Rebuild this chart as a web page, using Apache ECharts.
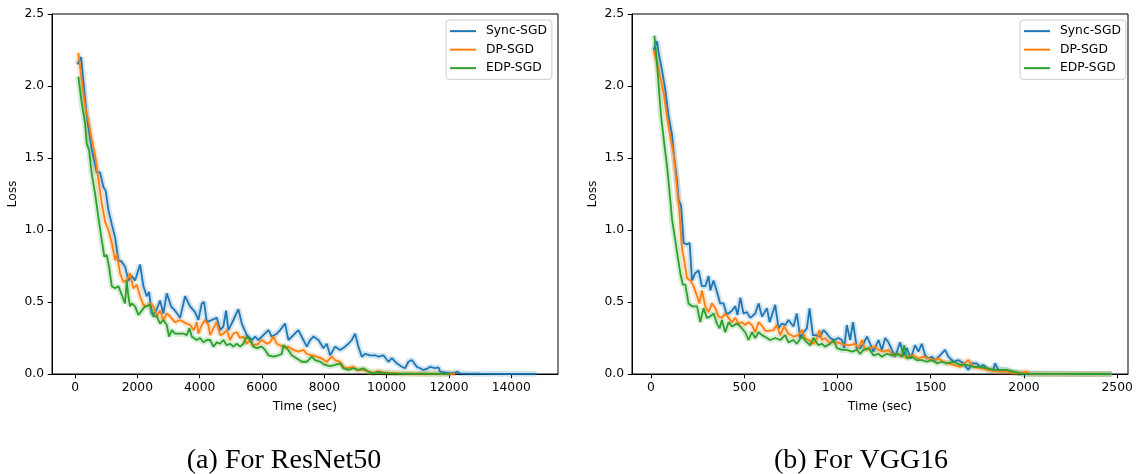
<!DOCTYPE html>
<html>
<head>
<meta charset="utf-8">
<script src="https://cdn.jsdelivr.net/npm/echarts@6/dist/echarts.min.js"></script>
<style>
html,body{margin:0;padding:0;background:#fff;}
#chart{width:1136px;height:474px;}
</style>
</head>
<body>
<div id="chart"></div>
<script>
// ---------------- DATA ----------------
const seriesNames = ['Sync-SGD', 'DP-SGD', 'EDP-SGD'];
const resnetTicks = [0, 2000, 4000, 6000, 8000, 10000, 12000, 14000];
const vggTicks = [0, 500, 1000, 1500, 2000, 2500];
const lossTicks = [0, 0.5, 1.0, 1.5, 2.0, 2.5];
const captions = ['(a) For ResNet50', '(b) For VGG16'];

// ResNet50: [time (sec), loss]
const resnetSync = [[74,2.15],[193,2.20],[376,1.79],[536,1.56],[697,1.40],[803,1.40],[908,1.30],[985,1.27],[1069,1.14],[1178,1.04],[1284,0.95],[1390,0.79],[1499,0.78],[1605,0.745],[1711,0.65],[1820,0.68],[1926,0.65],[2087,0.76],[2192,0.61],[2302,0.54],[2375,0.57],[2462,0.42],[2568,0.42],[2729,0.51],[2834,0.42],[2944,0.56],[3082,0.47],[3210,0.44],[3371,0.39],[3531,0.54],[3692,0.47],[3852,0.43],[3958,0.375],[4067,0.49],[4141,0.50],[4228,0.36],[4388,0.375],[4549,0.39],[4655,0.305],[4760,0.33],[4847,0.44],[4921,0.305],[5081,0.375],[5242,0.45],[5351,0.35],[5512,0.27],[5672,0.236],[5778,0.26],[5884,0.236],[6044,0.27],[6205,0.305],[6314,0.26],[6475,0.28],[6581,0.305],[6741,0.35],[6847,0.236],[7007,0.27],[7168,0.305],[7328,0.236],[7437,0.19],[7544,0.236],[7649,0.26],[7810,0.236],[7970,0.18],[8079,0.21],[8186,0.13],[8346,0.19],[8507,0.167],[8667,0.19],[8773,0.21],[8882,0.236],[8988,0.28],[9094,0.19],[9203,0.12],[9309,0.14],[9470,0.13],[9630,0.13],[9736,0.12],[9896,0.13],[10057,0.085],[10166,0.11],[10326,0.074],[10487,0.05],[10593,0.04],[10699,0.085],[10808,0.097],[10968,0.05],[11075,0.04],[11180,0.028],[11290,0.035],[11396,0.05],[11556,0.04],[11662,0.046],[11717,0.016],[11877,0.01],[12038,0.005],[12198,0.01],[12272,0.016],[12359,0.005],[12680,0.003],[13000,0.002],[13643,0.001],[14285,0.001],[14814,0.001]];
const resnetDP = [[106,2.23],[215,2.04],[321,1.86],[427,1.76],[536,1.625],[642,1.52],[748,1.35],[857,1.185],[963,1.06],[1069,1.00],[1178,0.91],[1284,0.79],[1339,0.83],[1445,0.70],[1550,0.64],[1660,0.65],[1766,0.70],[1871,0.595],[1981,0.62],[2087,0.54],[2192,0.48],[2302,0.47],[2408,0.49],[2513,0.47],[2623,0.40],[2729,0.44],[2834,0.375],[2944,0.42],[3050,0.40],[3210,0.36],[3371,0.375],[3531,0.355],[3692,0.34],[3820,0.305],[3907,0.36],[3958,0.28],[4067,0.34],[4173,0.375],[4279,0.34],[4334,0.27],[4440,0.317],[4549,0.36],[4655,0.27],[4760,0.28],[4870,0.305],[4976,0.236],[5081,0.28],[5191,0.29],[5297,0.25],[5402,0.26],[5512,0.21],[5618,0.236],[5723,0.20],[5884,0.21],[5993,0.236],[6154,0.21],[6260,0.22],[6365,0.26],[6475,0.21],[6581,0.20],[6741,0.18],[6847,0.19],[7007,0.167],[7168,0.155],[7328,0.167],[7437,0.14],[7598,0.13],[7759,0.12],[7919,0.108],[8079,0.085],[8240,0.12],[8346,0.097],[8507,0.085],[8613,0.05],[8722,0.04],[8933,0.05],[9043,0.028],[9254,0.028],[9415,0.016],[9575,0.01],[9728,0.02],[9887,0.012],[10112,0.008],[10433,0.005],[10914,0.003],[11396,0.002],[11877,0.001],[12200,0.001]];
const resnetEDP = [[106,2.065],[215,1.88],[321,1.74],[376,1.60],[449,1.555],[536,1.39],[642,1.255],[748,1.09],[857,0.93],[941,0.815],[1018,0.826],[1091,0.745],[1178,0.61],[1284,0.595],[1390,0.61],[1499,0.55],[1605,0.49],[1660,0.65],[1711,0.54],[1766,0.47],[1820,0.49],[1926,0.47],[2032,0.41],[2141,0.44],[2247,0.47],[2408,0.48],[2513,0.40],[2623,0.40],[2729,0.35],[2834,0.375],[2944,0.34],[3017,0.26],[3104,0.305],[3210,0.28],[3371,0.28],[3476,0.28],[3586,0.27],[3669,0.317],[3746,0.26],[3907,0.236],[4013,0.25],[4119,0.22],[4228,0.236],[4334,0.236],[4440,0.19],[4549,0.22],[4655,0.21],[4760,0.236],[4870,0.20],[4976,0.21],[5081,0.19],[5191,0.21],[5297,0.19],[5402,0.21],[5512,0.26],[5618,0.236],[5723,0.19],[5830,0.18],[5993,0.19],[6099,0.167],[6205,0.13],[6365,0.12],[6526,0.13],[6635,0.14],[6686,0.20],[6796,0.18],[6956,0.13],[7117,0.108],[7277,0.085],[7437,0.085],[7598,0.12],[7704,0.097],[7865,0.085],[8025,0.063],[8186,0.055],[8346,0.063],[8507,0.074],[8613,0.04],[8773,0.028],[8933,0.04],[9094,0.028],[9254,0.04],[9415,0.016],[9575,0.005],[9728,0.015],[9887,0.008],[10112,0.005],[10433,0.003],[11075,0.002],[11717,0.001],[12038,0.001]];

// VGG16: [time (sec), loss]
const vggSync = [[14,2.25],[32,2.31],[41,2.23],[59,2.11],[77,1.97],[94,1.79],[113,1.66],[121,1.54],[130,1.53],[139,1.35],[148,1.21],[161,1.17],[175,0.91],[193,0.90],[207,0.91],[220,0.65],[237,0.70],[255,0.72],[273,0.61],[291,0.61],[309,0.68],[318,0.58],[335,0.65],[354,0.57],[371,0.49],[389,0.49],[404,0.42],[416,0.42],[434,0.44],[452,0.47],[464,0.41],[479,0.53],[496,0.42],[514,0.43],[532,0.39],[559,0.42],[577,0.49],[595,0.40],[604,0.41],[622,0.456],[636,0.36],[666,0.48],[684,0.317],[702,0.35],[720,0.34],[737,0.375],[764,0.33],[782,0.42],[800,0.25],[818,0.29],[836,0.317],[850,0.456],[868,0.27],[890,0.27],[907,0.26],[925,0.305],[943,0.28],[961,0.25],[982,0.236],[1005,0.25],[1024,0.236],[1036,0.18],[1050,0.34],[1068,0.236],[1083,0.36],[1104,0.18],[1122,0.18],[1139,0.21],[1158,0.26],[1175,0.21],[1193,0.155],[1220,0.236],[1238,0.167],[1256,0.25],[1273,0.22],[1292,0.167],[1309,0.12],[1336,0.22],[1354,0.13],[1372,0.18],[1393,0.108],[1416,0.20],[1434,0.155],[1452,0.21],[1470,0.13],[1488,0.108],[1506,0.12],[1524,0.097],[1550,0.13],[1577,0.167],[1595,0.12],[1622,0.085],[1648,0.097],[1675,0.074],[1702,0.028],[1720,0.074],[1747,0.074],[1765,0.05],[1782,0.063],[1809,0.028],[1836,0.028],[1845,0.074],[1863,0.028],[1890,0.028],[1925,0.016],[1961,0.01],[1997,0.002],[2086,0.001],[2193,0.001],[2300,0.0],[2470,0.0]];
const vggDP = [[14,2.25],[32,2.16],[50,2.06],[68,1.95],[86,1.79],[103,1.65],[121,1.53],[139,1.30],[153,1.115],[166,0.87],[178,0.79],[193,0.665],[211,0.65],[228,0.61],[247,0.54],[260,0.49],[273,0.58],[291,0.47],[309,0.43],[327,0.49],[345,0.456],[362,0.40],[380,0.39],[398,0.42],[416,0.39],[434,0.36],[452,0.39],[469,0.35],[488,0.36],[505,0.34],[523,0.36],[541,0.34],[559,0.29],[577,0.36],[595,0.335],[613,0.30],[630,0.30],[657,0.305],[675,0.34],[693,0.27],[714,0.33],[737,0.28],[764,0.26],[791,0.27],[809,0.305],[827,0.25],[845,0.236],[871,0.21],[890,0.25],[904,0.305],[916,0.236],[934,0.25],[952,0.22],[970,0.22],[997,0.22],[1024,0.21],[1041,0.20],[1068,0.20],[1095,0.21],[1113,0.18],[1131,0.236],[1148,0.167],[1175,0.18],[1202,0.19],[1220,0.167],[1247,0.155],[1273,0.167],[1300,0.13],[1327,0.14],[1354,0.12],[1380,0.12],[1407,0.13],[1434,0.108],[1461,0.12],[1488,0.108],[1514,0.097],[1541,0.108],[1568,0.085],[1595,0.074],[1622,0.063],[1658,0.05],[1702,0.097],[1729,0.05],[1765,0.04],[1809,0.028],[1854,0.016],[1908,0.016],[1961,0.005],[2015,0.016],[2033,0.002],[2140,0.001],[2300,0.0],[2470,0.0]];
const vggEDP = [[18,2.35],[32,2.16],[41,2.0],[54,1.79],[71,1.60],[86,1.44],[100,1.255],[113,1.07],[130,0.93],[143,0.815],[157,0.70],[171,0.62],[184,0.62],[201,0.49],[220,0.47],[247,0.47],[264,0.36],[282,0.456],[300,0.39],[318,0.40],[335,0.42],[354,0.35],[368,0.317],[380,0.375],[398,0.29],[416,0.36],[434,0.33],[461,0.35],[479,0.33],[505,0.29],[523,0.236],[541,0.29],[559,0.25],[577,0.29],[595,0.27],[622,0.25],[639,0.236],[666,0.25],[693,0.236],[720,0.27],[737,0.22],[764,0.236],[782,0.21],[809,0.26],[836,0.22],[854,0.20],[871,0.25],[898,0.20],[916,0.21],[934,0.19],[961,0.21],[979,0.236],[997,0.18],[1024,0.167],[1050,0.167],[1077,0.155],[1104,0.167],[1122,0.14],[1139,0.167],[1166,0.18],[1193,0.13],[1220,0.14],[1238,0.12],[1265,0.14],[1292,0.13],[1318,0.14],[1345,0.12],[1358,0.20],[1372,0.108],[1399,0.12],[1425,0.097],[1452,0.097],[1479,0.085],[1506,0.097],[1533,0.074],[1560,0.085],[1586,0.074],[1622,0.085],[1658,0.063],[1693,0.063],[1729,0.05],[1765,0.05],[1801,0.04],[1836,0.028],[1872,0.028],[1908,0.028],[1943,0.016],[1979,0.005],[1997,0.002],[2140,0.001],[2300,0.0],[2470,0.0]];

// ---------------- CHART ----------------
const colors = ['#1f77b4', '#ff7f0e', '#2ca02c'];
const FONT = 'DejaVu Sans';
const FS = 12.3;
const chart = echarts.init(document.getElementById('chart'), null, {renderer: 'canvas'});

const panels = [
  {grid: {left: 52, top: 14, width: 506, height: 360}, xmin: -740, xmax: 15500, ticks: resnetTicks,
   data: [resnetSync, resnetDP, resnetEDP], legendLeft: 446, captionX: 284},
  {grid: {left: 632, top: 14, width: 496, height: 360}, xmin: -102, xmax: 2558, ticks: vggTicks,
   data: [vggSync, vggDP, vggEDP], legendLeft: 1020, captionX: 861}
];

const grids = [], xAxes = [], yAxes = [], series = [], legends = [];
panels.forEach((p, i) => {
  grids.push(Object.assign({show: true, borderColor: '#000', borderWidth: 1, backgroundColor: 'transparent', containLabel: false}, p.grid));
  xAxes.push({
    type: 'value', gridIndex: i, min: p.xmin, max: p.xmax,
    name: 'Time (sec)', nameLocation: 'middle', nameGap: 27,
    nameTextStyle: {fontFamily: FONT, fontSize: FS, color: '#000'},
    axisLine: {show: true, onZero: false, lineStyle: {color: '#000', width: 1}},
    axisTick: {show: true, length: 4.3, customValues: p.ticks, lineStyle: {color: '#000', width: 1}},
    axisLabel: {customValues: p.ticks, margin: 8, fontFamily: FONT, fontSize: FS, color: '#000',
      formatter: v => String(v)},
    splitLine: {show: false}
  });
  yAxes.push({
    type: 'value', gridIndex: i, min: 0, max: 2.5,
    name: 'Loss', nameLocation: 'middle', nameGap: 33, nameRotate: 90,
    nameTextStyle: {fontFamily: FONT, fontSize: FS, color: '#000'},
    axisLine: {show: true, onZero: false, lineStyle: {color: '#000', width: 1}},
    axisTick: {show: true, length: 4.3, customValues: lossTicks, lineStyle: {color: '#000', width: 1}},
    axisLabel: {customValues: lossTicks, margin: 8, fontFamily: FONT, fontSize: FS, color: '#000',
      formatter: v => Number(v).toFixed(1)},
    splitLine: {show: false}
  });
  // shaded bands (drawn first, beneath)
  p.data.forEach((d, k) => {
    series.push({
      type: 'line', name: seriesNames[k] + ' band', xAxisIndex: i, yAxisIndex: i, data: d,
      showSymbol: false, silent: true, z: 1,
      lineStyle: {color: colors[k], width: 6, opacity: 0.2}
    });
  });
  p.data.forEach((d, k) => {
    series.push({
      type: 'line', name: seriesNames[k], xAxisIndex: i, yAxisIndex: i, data: d,
      showSymbol: false, z: 3, color: colors[k],
      lineStyle: {color: colors[k], width: 1.8}
    });
  });
  legends.push({
    data: seriesNames, orient: 'vertical', left: p.legendLeft, top: 20,
    padding: [5, 5, 5, 4], itemGap: 6.2, itemWidth: 26, itemHeight: 2, icon: 'rect',
    backgroundColor: 'rgba(255,255,255,0.8)', borderColor: '#cccccc', borderWidth: 1, borderRadius: 3,
    textStyle: {fontFamily: FONT, fontSize: FS, color: '#000', lineHeight: 12.3, padding: [0, 0, 0, 5]},
    selectedMode: false
  });
});

chart.setOption({
  animation: false,
  backgroundColor: '#fff',
  grid: grids, xAxis: xAxes, yAxis: yAxes, series: series, legend: legends,
  graphic: captions.map((c, i) => ({
    type: 'text', x: panels[i].captionX, y: 461,
    style: {text: c, font: '28px "Liberation Serif"', fill: '#000', align: 'center', verticalAlign: 'middle'}
  }))
});
</script>
</body>
</html>
